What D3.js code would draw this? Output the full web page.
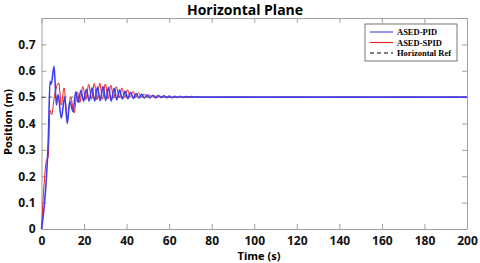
<!DOCTYPE html>
<html>
<head>
<meta charset="utf-8">
<script src="https://cdn.jsdelivr.net/npm/d3@7"></script>
<style>
body { margin: 0; background: #fff; }
svg { display: block; }
</style>
</head>
<body>
<div id="chart"></div>
<script>
// values: [time, position]
var pidData = [[0,0],[3.2,0.34],[4.0,0.56],[4.6,0.55],[5.9,0.617],[7.0,0.47],[7.8,0.51],[9.3,0.42],[10.9,0.50],
  [12.1,0.40],[13.3,0.484],[14.8,0.446],[16.1,0.52],[17.2,0.48],[18.5,0.525],[19.8,0.485],[21.1,0.53],[22.4,0.485],
  [23.7,0.535],[25.0,0.485],[26.3,0.538],[27.6,0.487],[28.9,0.54],[30.2,0.487],[31.5,0.537],[32.8,0.485],[34.1,0.533],
  [35.4,0.49],[36.7,0.528],[38.0,0.493],[39.3,0.522],[40.6,0.494],[41.9,0.518],[43.2,0.495],[44.5,0.514],[45.8,0.496],
  [47.1,0.511],[48.4,0.497],[49.7,0.509],[51.0,0.497],[52.3,0.507],[53.6,0.497],[54.9,0.506],[56.2,0.498],[57.5,0.505],
  [58.8,0.498],[60.1,0.504],[61.4,0.498],[62.7,0.503],[64.0,0.499],[65.3,0.503],[66.6,0.499],[67.9,0.502],[69.2,0.5],
  [70.5,0.502],[71.8,0.5],[73.1,0.501],[74.4,0.5],[76,0.5],[200,0.5]];
var spidData = [[0,0],[2.5,0.265],[3.1,0.27],[4.0,0.45],[4.8,0.434],[6.0,0.50],[8.1,0.554],[9.3,0.47],[10.6,0.535],
  [12.1,0.42],[13.7,0.50],[15.3,0.44],[16.8,0.52],[18.0,0.48],[19.4,0.54],[20.8,0.49],[22.2,0.548],[23.5,0.492],
  [24.8,0.552],[26.1,0.49],[27.4,0.553],[28.7,0.492],[30.0,0.55],[31.3,0.494],[32.6,0.545],[33.9,0.496],[35.2,0.54],
  [36.5,0.498],[37.8,0.535],[39.1,0.498],[40.4,0.528],[41.7,0.499],[43.0,0.522],[44.3,0.499],[45.6,0.517],[46.9,0.5],
  [48.2,0.512],[49.5,0.5],[50.8,0.508],[52.1,0.5],[53.4,0.505],[54.7,0.5],[56.0,0.503],[57.3,0.5],[58.6,0.502],
  [60,0.5],[200,0.5]];
var refData = [[0,0.5],[200,0.5]];
var xTicks = [0,20,40,60,80,100,120,140,160,180,200];
var yTicks = [0,0.1,0.2,0.3,0.4,0.5,0.6,0.7];
var legendNames = ["ASED-PID","ASED-SPID","Horizontal Ref"];

var margin = {top: 18, right: 13, bottom: 34, left: 41.5},
    width = 480 - margin.left - margin.right,
    height = 263 - margin.top - margin.bottom;

var svg = d3.select("#chart").append("svg")
    .attr("width", 480)
    .attr("height", 263);

var chart = svg.append("g")
    .attr("transform", "translate(" + margin.left + "," + margin.top + ")");

var x = d3.scaleLinear().domain([0, 200]).range([0, width]);
var y = d3.scaleLinear().domain([0, 0.8]).range([height, 0]);

var line = d3.line()
    .x(function(d) { return x(d[0]); })
    .y(function(d) { return y(d[1]); })
    .curve(d3.curveMonotoneX);

// axes, ticks pointing inward, box on all sides
chart.append("g").attr("class", "axis")
    .attr("transform", "translate(0," + height + ")")
    .call(d3.axisBottom(x).tickValues(xTicks).tickSizeInner(-5).tickSizeOuter(0).tickPadding(7));
chart.append("g").attr("class", "axis")
    .call(d3.axisLeft(y).tickValues(yTicks).tickSizeInner(-5).tickSizeOuter(0).tickPadding(6)
      .tickFormat(function(d) { return d === 0 ? "0" : d3.format(".1f")(d); }));
chart.append("g").attr("class", "axis noLabel")
    .call(d3.axisTop(x).tickValues(xTicks).tickSizeInner(-5).tickSizeOuter(0).tickFormat(""));
chart.append("g").attr("class", "axis noLabel")
    .attr("transform", "translate(" + width + ",0)")
    .call(d3.axisRight(y).tickValues(yTicks).tickSizeInner(-5).tickSizeOuter(0).tickFormat(""));

chart.selectAll(".axis path, .axis line").attr("stroke", "#a0a0a0");
chart.selectAll(".axis text")
    .style("font-family", "'Open Sans', sans-serif")
    .style("font-size", "12px")
    .style("font-weight", "bold")
    .attr("fill", "#111");

// lines
chart.append("path").datum(refData)
    .attr("d", line).attr("fill", "none")
    .attr("stroke", "#000").attr("stroke-width", 0.6).attr("stroke-dasharray", "4,3");
chart.append("path").datum(spidData)
    .attr("d", line).attr("fill", "none")
    .attr("stroke", "#ee1c1c").attr("stroke-width", 1.0);
chart.append("path").datum(pidData)
    .attr("d", line).attr("fill", "none")
    .attr("stroke", "#4040ee").attr("stroke-width", 1.6);

// title and labels
svg.append("text")
    .attr("x", 245).attr("y", 15)
    .style("font-family", "'Open Sans', sans-serif")
    .style("font-size", "14px").style("font-weight", "bold")
    .style("text-anchor", "middle")
    .text("Horizontal Plane");
svg.append("text")
    .attr("x", 259).attr("y", 260)
    .style("font-family", "'Open Sans', sans-serif")
    .style("font-size", "11px").style("font-weight", "bold")
    .style("text-anchor", "middle")
    .text("Time (s)");
svg.append("text")
    .attr("transform", "translate(12,122) rotate(-90)")
    .style("font-family", "'Open Sans', sans-serif")
    .style("font-size", "11px").style("font-weight", "bold")
    .style("text-anchor", "middle")
    .text("Position (m)");

// legend
var legend = svg.append("g").attr("transform", "translate(365,24)");
legend.append("rect")
    .attr("width", 92).attr("height", 37)
    .attr("fill", "#fff").attr("stroke", "#555").attr("stroke-width", 0.8);
var legColors = ["#4040ee", "#ee1c1c", "#000"];
legendNames.forEach(function(name, i) {
  var ly = 8 + i * 10.5;
  legend.append("line")
      .attr("x1", 5).attr("x2", 28).attr("y1", ly).attr("y2", ly)
      .attr("stroke", legColors[i]).attr("stroke-width", 1.1)
      .attr("stroke-dasharray", i === 2 ? "4,3" : null);
  legend.append("text")
      .attr("x", 32).attr("y", ly + 3)
      .style("font-family", "'Liberation Serif', serif")
      .style("font-size", "8.5px").style("font-weight", "bold")
      .text(name);
});
</script>
</body>
</html>
